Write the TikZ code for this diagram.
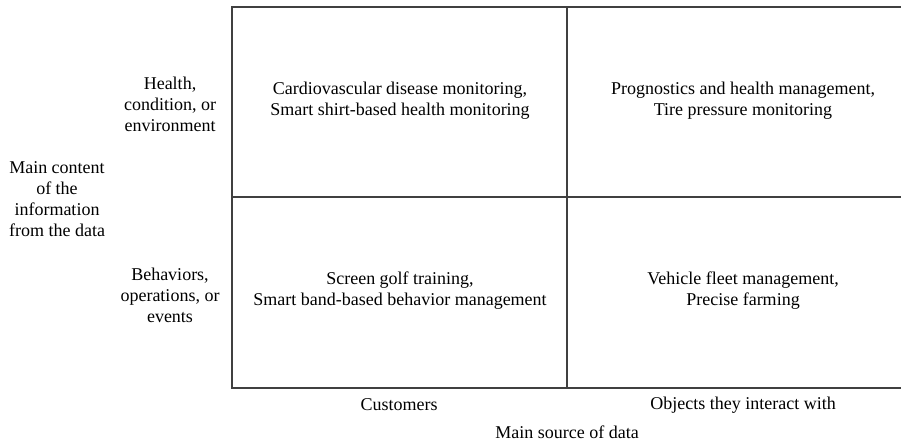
\documentclass[tikz,border=0pt]{standalone}
\usepackage{fontspec}
\setmainfont{Liberation Serif}

\begin{document}
\begin{tikzpicture}[x=1pt,y=-1pt,
	lbl/.style={align=center,inner sep=0,outer sep=0,font=\fontsize{18}{21}\selectfont},
	grid/.style={line width=1.3pt,draw=black!75}]
	\useasboundingbox (0,0) rectangle (901,443);
	\coordinate (tl) at (232,7);
	\coordinate (tm) at (567,7);
	\coordinate (tr) at (901,7);
	\coordinate (ml) at (232,197);
	\coordinate (mr) at (901,197);
	\coordinate (bl) at (232,388);
	\coordinate (bm) at (567,388);
	\coordinate (br) at (901,388);
	\draw[grid] (tr) -- (tl) -- (bl) -- (br);
	\draw[grid] (ml) -- (mr);
	\draw[grid] (tm) -- (bm);
	\node[lbl] (health) at (400,101) {Cardiovascular disease monitoring,\\Smart shirt-based health monitoring};
	\node[lbl] (phm) at (743,101) {Prognostics and health management,\\Tire pressure monitoring};
	\node[lbl] (golf) at (400,291) {Screen golf training,\\Smart band-based behavior management};
	\node[lbl] (fleet) at (743,291) {Vehicle fleet management,\\Precise farming};
	\node[lbl] (cond) at (170,104) {Health,\\condition, or\\environment};
	\node[lbl] (behav) at (170,295) {Behaviors,\\operations, or\\events};
	\node[lbl] (content) at (57,199) {Main content\\of the\\information\\from the data};
	\node[lbl] (cust) at (399,405) {Customers};
	\node[lbl] (objs) at (743,405) {Objects they interact with};
	\node[lbl] (source) at (567,432) {Main source of data};
\end{tikzpicture}
\end{document}
